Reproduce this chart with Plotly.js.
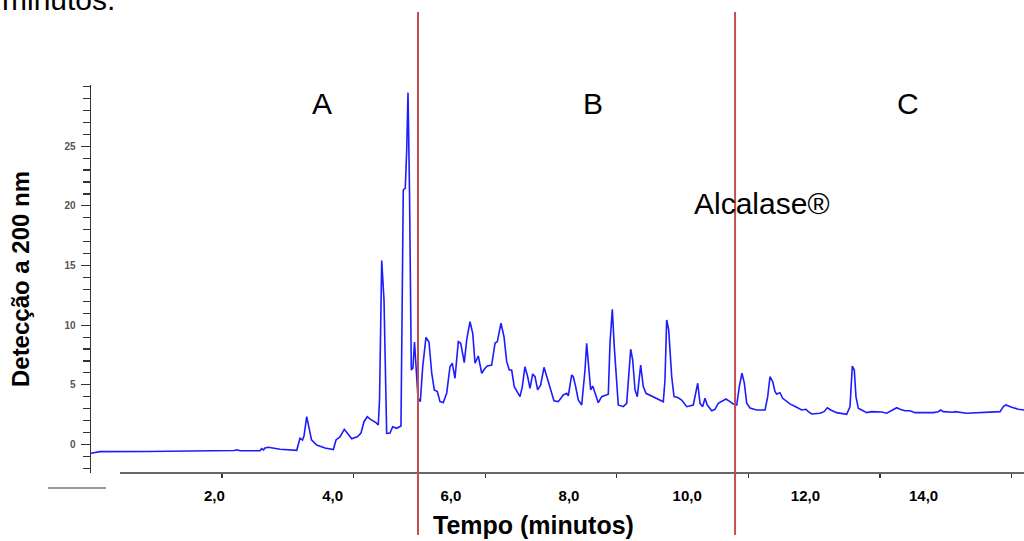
<!DOCTYPE html>
<html><head><meta charset="utf-8">
<script src="https://cdn.plot.ly/plotly-3.0.1.min.js"></script>
<style>html,body{margin:0;padding:0;background:#fff;}#chart{width:1024px;height:541px;}</style>
</head><body><div id="chart"></div>
<script>
// Retention time (minutes)
const timeMin = [-0.09,0.064,0.860,1.756,2.146,2.332,2.382,2.433,2.772,2.800,2.831,2.856,2.912,2.992,3.110,3.393,3.448,3.491,3.516,3.562,3.601,3.643,3.731,3.871,4.012,4.058,4.125,4.198,4.261,4.323,4.418,4.481,4.531,4.587,4.641,4.734,4.773,4.794,4.831,4.870,4.915,4.971,5.017,5.085,5.157,5.174,5.196,5.230,5.254,5.276,5.301,5.332,5.360,5.386,5.411,5.445,5.484,5.525,5.580,5.609,5.631,5.677,5.721,5.772,5.817,5.873,5.931,5.986,6.025,6.071,6.127,6.168,6.228,6.269,6.325,6.371,6.410,6.465,6.523,6.579,6.618,6.692,6.748,6.787,6.849,6.900,6.946,6.990,7.030,7.074,7.125,7.171,7.210,7.255,7.301,7.340,7.386,7.425,7.470,7.521,7.577,7.623,7.690,7.746,7.819,7.904,7.961,7.988,8.046,8.073,8.113,8.157,8.215,8.271,8.299,8.338,8.367,8.401,8.440,8.496,8.553,8.665,8.694,8.733,8.766,8.807,8.834,8.919,8.976,9.044,9.078,9.117,9.156,9.213,9.257,9.303,9.426,9.596,9.624,9.653,9.687,9.738,9.777,9.832,9.907,9.992,10.103,10.178,10.217,10.262,10.301,10.340,10.415,10.470,10.526,10.584,10.656,10.724,10.780,10.838,10.882,10.927,10.966,11.007,11.063,11.176,11.317,11.362,11.401,11.447,11.486,11.514,11.570,11.616,11.672,11.739,11.853,11.937,12.010,12.049,12.107,12.247,12.315,12.371,12.428,12.530,12.699,12.755,12.794,12.827,12.856,12.895,12.953,13.037,13.122,13.291,13.376,13.460,13.545,13.601,13.685,13.770,13.854,14.164,14.249,14.289,14.333,14.503,14.531,14.729,14.954,15.180,15.293,15.349,15.394,15.491,15.602,15.699];
// Detection at 200 nm
const detection = [-0.74,-0.60,-0.59,-0.56,-0.54,-0.50,-0.44,-0.52,-0.52,-0.35,-0.46,-0.29,-0.23,-0.29,-0.40,-0.49,0.52,0.38,0.71,2.33,1.38,0.38,-0.04,-0.29,-0.42,0.38,0.63,1.27,0.88,0.48,0.65,0.96,1.91,2.33,2.10,1.83,1.63,3.73,15.41,12.11,0.94,0.96,1.49,1.36,1.55,9.60,21.33,21.48,24.69,29.49,21.33,6.24,6.41,8.59,6.66,3.90,3.59,6.52,8.97,8.72,8.59,5.99,4.57,4.43,3.59,3.52,4.32,6.52,6.81,5.55,8.62,8.48,6.86,8.76,10.29,9.32,6.81,7.42,5.97,6.39,6.58,6.66,8.48,8.62,10.16,9.04,6.94,6.24,6.24,4.85,4.43,4.01,4.85,6.52,5.68,4.71,5.91,5.68,4.57,4.99,6.47,5.68,4.43,3.67,3.59,4.15,4.29,4.07,5.83,5.68,4.85,3.73,3.31,6.24,8.48,6.52,4.57,4.90,4.29,3.50,4.01,4.21,8.51,11.33,8.20,4.57,3.31,3.17,3.45,7.98,7.08,4.57,4.01,6.66,4.85,4.29,4.01,3.59,5.41,10.44,9.60,5.68,4.01,3.96,3.73,3.17,3.31,5.13,3.45,3.17,3.87,3.31,2.83,2.95,3.45,3.59,3.81,3.59,3.40,3.31,4.85,5.97,5.16,3.45,3.06,2.89,2.89,4.01,5.68,5.26,4.43,4.23,4.34,3.87,3.67,3.40,3.12,2.89,2.95,2.75,2.56,2.62,2.75,3.08,2.89,2.67,2.53,3.17,6.58,6.24,4.01,3.03,2.89,2.67,2.75,2.72,2.62,2.83,3.08,2.95,2.83,2.83,2.67,2.67,2.75,2.89,2.75,2.70,2.75,2.62,2.67,2.70,2.75,3.17,3.31,3.12,2.95,2.89];
const xTickVals = [2,4,6,8,10,12,14];
const xTickText = ['2,0','4,0','6,0','8,0','10,0','12,0','14,0'];
const yTickVals = [0,5,10,15,20,25];
const yTickText = ['0','5','10','15','20','25'];
const fractionCuts = [5.445, 10.81];
const fractionNames = ['A','B','C'];
const enzymeName = 'Alcalase®';

const trace = {
  x: timeMin, y: detection, type: 'scatter', mode: 'lines',
  line: {color: '#1c1cff', width: 1.6}, hoverinfo: 'skip'
};

const redLines = fractionCuts.map(c => ({
  type: 'line', xref: 'x', yref: 'paper', x0: c, x1: c, y0: -0.16, y1: 1.188,
  line: {color: '#c0504d', width: 2}
}));

const labelX = [3.821, 8.406, 13.736];
const zoneAnn = fractionNames.map((n, i) => ({
  text: n, xref: 'x', yref: 'y', x: labelX[i], y: 28.54, showarrow: false,
  font: {size: 30, color: '#000', family: 'Liberation Sans, Arial, sans-serif'}
}));

const layout = {
  width: 1024, height: 541,
  margin: {l: 91, r: 0, t: 85, b: 68},
  paper_bgcolor: '#fff', plot_bgcolor: '#fff',
  showlegend: false,
  font: {family: 'Liberation Sans, Arial, sans-serif', color: '#000'},
  xaxis: {
    range: [-0.088, 15.699], showgrid: false, zeroline: false, showline: false,
    tickmode: 'array', tickvals: xTickVals, ticktext: xTickText, ticks: '',
    tickfont: {size: 15, color: '#000', weight: 'bold'},
    ticklabelstandoff: 12,
    minor: {ticks: 'outside', ticklen: 4, tickwidth: 1.2, tickcolor: '#333', tick0: 2.129, dtick: 2.227, showgrid: false}
  },
  yaxis: {
    range: [-2.39, 30.13], showgrid: false, zeroline: false,
    showline: true, linecolor: '#333', linewidth: 1.5,
    tickmode: 'array', tickvals: yTickVals, ticktext: yTickText,
    ticks: 'outside', ticklen: 9, tickwidth: 1.2, tickcolor: '#333',
    tickfont: {size: 10, color: '#555', weight: 'bold'},
    ticklabelstandoff: 3,
    minor: {ticks: 'outside', ticklen: 7, tickwidth: 1.2, tickcolor: '#333', tick0: 0, dtick: 1, showgrid: false},
    title: {text: 'Detecção a 200 nm', font: {size: 24, color: '#000', weight: 'bold'}, standoff: 28}
  },
  shapes: [
    {type: 'line', xref: 'x', yref: 'paper', x0: 0.403, x1: 15.699, y0: 0, y1: 0, line: {color: '#333', width: 1.5}},
    {type: 'line', xref: 'paper', yref: 'paper', x0: -0.046, x1: 0.016, y0: -0.0387, y1: -0.0387, line: {color: '#333', width: 1.2}}
  ].concat(redLines),
  annotations: zoneAnn.concat([
    {text: enzymeName, xref: 'x', yref: 'y', x: 11.266, y: 20.24, showarrow: false,
     font: {size: 30, color: '#000'}},
    {text: 'minutos.', xref: 'paper', yref: 'paper', x: -0.0975, xanchor: 'left', y: 1.172, yanchor: 'bottom',
     showarrow: false, font: {size: 30, color: '#000'}},
    {text: 'Tempo (minutos)', xref: 'paper', yref: 'paper', x: 0.474, y: -0.134, yanchor: 'middle',
     showarrow: false, font: {size: 25, color: '#000', weight: 'bold'}}
  ])
};

Plotly.newPlot('chart', [trace], layout, {displayModeBar: false, staticPlot: true});
</script></body></html>
